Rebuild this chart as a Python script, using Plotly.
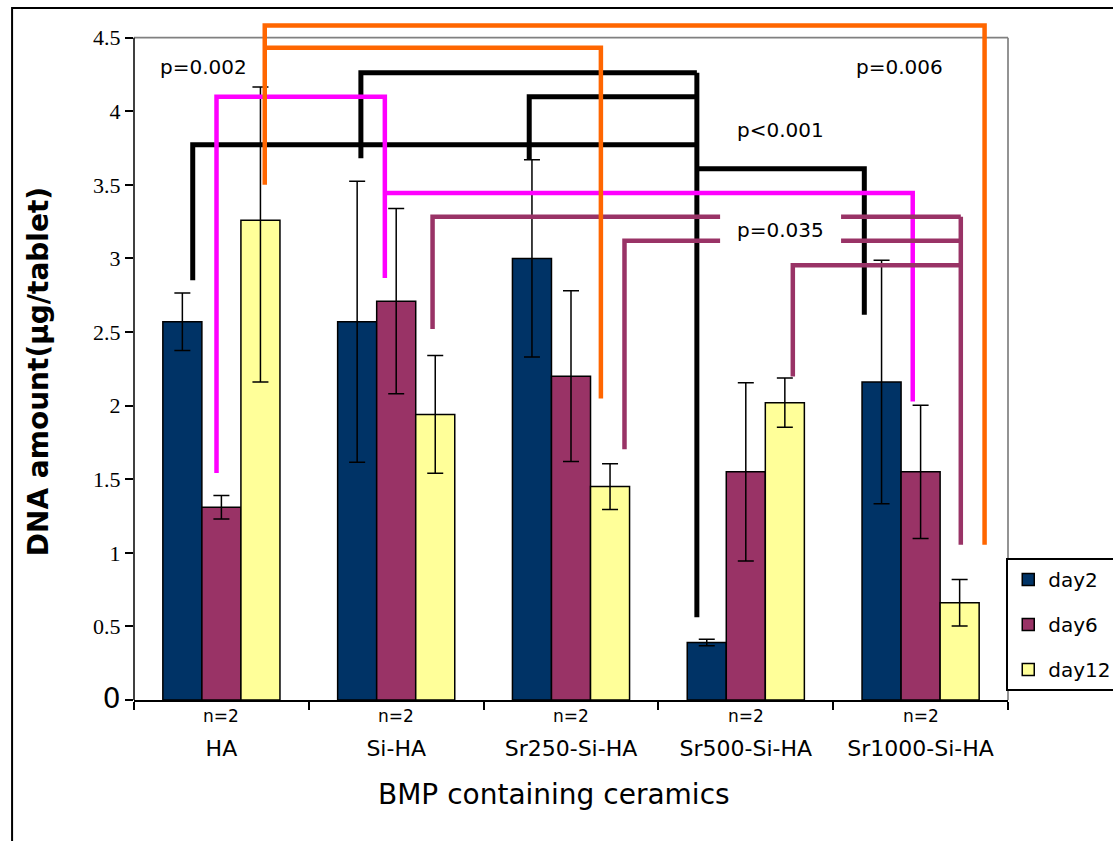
import plotly.graph_objects as go

# ---- data -------------------------------------------------------------
ceramics = ["HA", "Si-HA", "Sr250-Si-HA", "Sr500-Si-HA", "Sr1000-Si-HA"]
n_per_group = [2, 2, 2, 2, 2]

day2 = [2.57, 2.57, 3.00, 0.39, 2.16]
day2_err = [0.195, 0.955, 0.67, 0.022, 0.827]

day6 = [1.31, 2.71, 2.20, 1.55, 1.55]
day6_err = [0.08, 0.63, 0.58, 0.605, 0.452]

day12 = [3.26, 1.94, 1.45, 2.02, 0.66]
day12_err_plus = [0.905, 0.40, 0.155, 0.167, 0.158]
day12_err_minus = [1.10, 0.40, 0.155, 0.167, 0.158]

y_ticks = [0, 0.5, 1, 1.5, 2, 2.5, 3, 3.5, 4, 4.5]

# significance brackets: polylines in axis units (x = ceramic index, y = DNA amount)
brackets = [
    # p<0.001 (day2 comparisons)
    ("#000000", 5, [(-0.164, 2.851), (-0.164, 3.773), (2.720, 3.773)]),
    ("#000000", 5, [(0.798, 3.680), (0.798, 4.262), (2.720, 4.262)]),
    ("#000000", 5, [(1.761, 3.670), (1.761, 4.099), (2.720, 4.099)]),
    ("#000000", 5, [(2.720, 4.262), (2.720, 0.562)]),
    ("#000000", 5, [(2.720, 3.610), (3.678, 3.610), (3.678, 2.617)]),
    # p=0.002 (day6 comparisons)
    ("#FF00FF", 4.5, [(-0.028, 1.543), (-0.028, 4.099), (0.935, 4.099), (0.935, 2.867)]),
    ("#FF00FF", 4.5, [(0.935, 3.445), (3.955, 3.445), (3.955, 2.028)]),
    # p=0.035 (day12 comparisons)
    ("#993366", 4.5, [(1.208, 2.520), (1.208, 3.283), (2.853, 3.283)]),
    ("#993366", 4.5, [(3.545, 3.283), (4.230, 3.283)]),
    ("#993366", 4.5, [(2.306, 1.704), (2.306, 3.120), (2.853, 3.120)]),
    ("#993366", 4.5, [(3.545, 3.120), (4.230, 3.120)]),
    ("#993366", 4.5, [(3.269, 2.198), (3.269, 2.954), (4.230, 2.954)]),
    ("#993366", 4.5, [(4.230, 3.283), (4.230, 1.054)]),
    # p=0.006 (day12 vs HA day12)
    ("#FF6600", 4.5, [(0.248, 3.501), (0.248, 4.582), (4.366, 4.582), (4.366, 1.054)]),
    ("#FF6600", 4.5, [(0.248, 4.432), (2.171, 4.432), (2.171, 2.048)]),
]

p_labels = [
    ("p=0.002", -0.103, 4.303),
    ("p=0.006", 3.882, 4.300),
    ("p<0.001", 3.196, 3.875),
    ("p=0.035", 3.196, 3.195),
]

# ---- figure -----------------------------------------------------------
x_idx = list(range(len(ceramics)))
W, H = 1113, 841
M_L, M_R, M_T, M_B = 134, 105, 20, 141
Y_MAX = 4.62
SANS = "DejaVu Sans"
SERIF = "Liberation Serif, Times New Roman, serif"

fig = go.Figure()

def err(plus, minus=None):
    d = dict(type="data", array=plus, color="black", thickness=1.5, width=8)
    if minus is not None:
        d.update(symmetric=False, arrayminus=minus)
    return d

fig.add_trace(go.Bar(name="day2", x=x_idx, y=day2, error_y=err(day2_err),
                     marker=dict(color="#003366", line=dict(color="black", width=1.5)),
                     legendgroup="d2"))
fig.add_trace(go.Bar(name="day6", x=x_idx, y=day6, error_y=err(day6_err),
                     marker=dict(color="#993366", line=dict(color="black", width=1.5)),
                     legendgroup="d6"))
fig.add_trace(go.Bar(name="day12", x=x_idx, y=day12, error_y=err(day12_err_plus, day12_err_minus),
                     marker=dict(color="#FFFF99", line=dict(color="black", width=1.5)),
                     legendgroup="d12"))

for color, width, pts in brackets:
    fig.add_trace(go.Scatter(x=[p[0] for p in pts], y=[p[1] for p in pts], mode="lines",
                             line=dict(color=color, width=width), showlegend=False,
                             hoverinfo="skip"))

annotations = []
for text, px, py in p_labels:
    annotations.append(dict(x=px, y=py, xref="x", yref="y", text=text, showarrow=False,
                            font=dict(family=SANS, size=20, color="black")))
for i, n in enumerate(n_per_group):
    annotations.append(dict(x=i, y=-0.0235, xref="x", yref="paper", text=f"n={n}",
                            showarrow=False, yanchor="middle",
                            font=dict(family=SANS, size=17, color="black")))
annotations.append(dict(x=0.481, y=-0.1397, xref="paper", yref="paper",
                        text="BMP containing ceramics", showarrow=False, yanchor="middle",
                        font=dict(family=SANS, size=28, color="black")))
annotations.append(dict(x=-0.1098, y=0.482, xref="paper", yref="paper",
                        text="<b>DNA amount(μg/tablet)</b>", showarrow=False, textangle=-90,
                        xanchor="center", yanchor="middle",
                        font=dict(family=SANS, size=28, color="black")))

y_ticktext = ['<span style="font-family:DejaVu Sans;font-size:28px">0</span>'] + \
             [f"{v:g}" for v in y_ticks[1:]]

shapes = [
    # outer frame
    dict(type="rect", xref="paper", yref="paper", x0=-0.1395, x1=1.3, y0=-0.4, y1=1.0176,
         line=dict(color="black", width=2), fillcolor="rgba(0,0,0,0)", layer="below"),
    # plot-area border (top and right)
    dict(type="line", xref="paper", yref="y", x0=0, x1=1, y0=4.5, y1=4.5,
         line=dict(color="#808080", width=1.7), layer="below"),
    dict(type="line", xref="paper", yref="y", x0=1, x1=1, y0=0, y1=4.5,
         line=dict(color="#808080", width=1.7), layer="below"),
    # value axis line
    dict(type="line", xref="paper", yref="y", x0=0, x1=0, y0=0, y1=4.5,
         line=dict(color="black", width=1.5)),
]

fig.update_layout(
    width=W, height=H,
    margin=dict(l=M_L, r=M_R, t=M_T, b=M_B, autoexpand=False),
    paper_bgcolor="white", plot_bgcolor="white",
    barmode="group", bargap=0.33, bargroupgap=0,
    showlegend=True,
    legend=dict(x=0.998, xanchor="left", y=0.209, yanchor="top",
                bgcolor="white", bordercolor="black", borderwidth=2,
                font=dict(family=SANS, size=20, color="black"),
                traceorder="grouped", tracegroupgap=16, itemwidth=30),
    annotations=annotations,
    shapes=shapes,
    xaxis=dict(range=[-0.5, 4.5], tickmode="array", tickvals=x_idx, ticktext=ceramics,
               ticks="outside", ticklen=0, showline=True, linecolor="black", linewidth=1.5,
               showgrid=False, zeroline=False, ticklabelstandoff=28,
               tickfont=dict(family=SANS, size=22, color="black"),
               minor=dict(tickmode="linear", tick0=-0.5, dtick=1, ticks="outside",
                          ticklen=8, tickwidth=1.5, tickcolor="black", showgrid=False)),
    yaxis=dict(range=[0, Y_MAX], tickmode="array", tickvals=y_ticks, ticktext=y_ticktext,
               ticks="outside", ticklen=8, tickwidth=1.5, tickcolor="black",
               showline=False, showgrid=False, zeroline=False,
               tickfont=dict(family=SERIF, size=22, color="black")),
)

fig.write_html("out.html")
